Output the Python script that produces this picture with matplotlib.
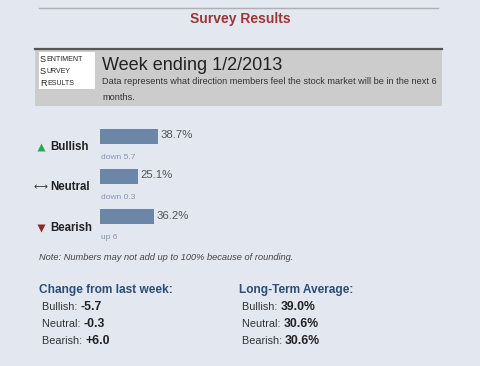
import matplotlib
matplotlib.use('Agg')
import matplotlib.pyplot as plt
from matplotlib.patches import Rectangle

plt.rcParams['font.family'] = ['Liberation Sans', 'DejaVu Sans']

# data
categories = ['Bullish', 'Neutral', 'Bearish']
percents = [38.7, 25.1, 36.2]
week_change = ['down 5.7', 'down 0.3', 'up 6']
change_vals = ['-5.7', '-0.3', '+6.0']
long_term = ['39.0%', '30.6%', '30.6%']
week_label = 'Week ending 1/2/2013'

bg = '#e3e7ef'
bar_color = '#6b86a6'
head_color = '#2b4f78'

fig = plt.figure(figsize=(4.8, 3.66), dpi=100, facecolor=bg)

# overlay axes in pixel coordinates
ax = fig.add_axes([0, 0, 1, 1])
ax.set_xlim(0, 480)
ax.set_ylim(366, 0)
ax.axis('off')
fig.canvas.draw()
r = fig.canvas.get_renderer()

ax.plot([39, 438], [8, 8], color='#b0b0b0', lw=1)
ax.text(240, 19, 'Survey Results', ha='center', va='center', fontsize=10,
        fontweight='bold', color='#9c3636')

# header box
ax.add_patch(Rectangle((35, 48), 407, 58, facecolor='#cccccc', edgecolor='none'))
ax.plot([35, 442], [48.5, 48.5], color='#555555', lw=1.6)
ax.add_patch(Rectangle((39, 52), 56, 37, facecolor='white', edgecolor='none'))
for i, w in enumerate(['Sentiment', 'Survey', 'Results']):
    t = ax.text(40, 59 + i * 12, w[0], ha='left', va='center', fontsize=6.5, color='#222222')
    bb = t.get_window_extent(r)
    ax.text(40.5 + bb.width, 59.5 + i * 12, w[1:].upper(), ha='left', va='center',
            fontsize=5, color='#222222')
ax.text(102, 65, week_label, ha='left', va='center', fontsize=13, color='#222222')
ax.text(102, 81, 'Data represents what direction members feel the stock market will be in the next 6',
        ha='left', va='center', fontsize=6.6, color='#333333')
ax.text(102, 97, 'months.', ha='left', va='center', fontsize=6.6, color='#333333')

# bar axes
bax = fig.add_axes([100 / 480, 1 - 237 / 366, 300 / 480, 121 / 366])
bax.set_facecolor('none')
y = list(range(len(categories)))
bax.barh(y, percents, height=0.37, color=bar_color, align='center')
bax.set_xlim(0, 200)
bax.set_ylim(2.5, -0.5)
bax.axis('off')
for i, (p, c) in enumerate(zip(percents, week_change)):
    bax.text(p + 1.5, i - 0.03, f'{p}%', ha='left', va='center', fontsize=8.2, color='#555555')
    bax.text(0.5, i + 0.52, c, ha='left', va='center', fontsize=6, color='#8098b8')

# category labels and icons
label_y = [147, 187, 228]
for i, (cat, ly) in enumerate(zip(categories, label_y)):
    ax.text(50, ly, cat, ha='left', va='center', fontsize=8.3, fontweight='bold',
            color='#222222')
ax.plot([41], [label_y[0]], marker='^', ms=5.2, color='#2da84a', mec='none')
ax.text(41, label_y[1], '⟷', ha='center', va='center', fontsize=7, color='#333333',
        family=['DejaVu Sans'])
ax.plot([41], [label_y[2]], marker='v', ms=5.2, color='#8a2b2b', mec='none')

ax.text(39, 257, 'Note: Numbers may not add up to 100% because of rounding.', ha='left',
        va='center', fontsize=6.7, style='italic', color='#444444')

# change / long-term section
ax.text(39, 290, 'Change from last week:', ha='left', va='center', fontsize=8.6,
        fontweight='bold', color=head_color)
ax.text(239, 290, 'Long-Term Average:', ha='left', va='center', fontsize=8.6,
        fontweight='bold', color=head_color)
for i, cat in enumerate(categories):
    yy = 307 + i * 17
    for x0, val in [(42, change_vals[i]), (242, long_term[i])]:
        t = ax.text(x0, yy, cat + ': ', ha='left', va='center', fontsize=7.8, color='#333333')
        bb = t.get_window_extent(r)
        ax.text(x0 + bb.width, yy, val, ha='left', va='center', fontsize=8.8,
                fontweight='bold', color='#222222')

fig.savefig('out.png', dpi=100, facecolor=bg)
